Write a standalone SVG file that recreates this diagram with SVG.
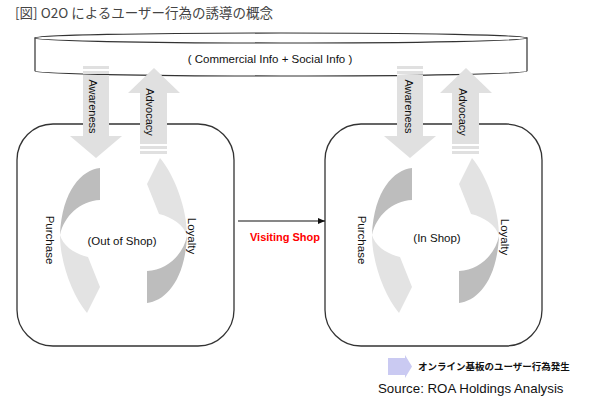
<svg xmlns="http://www.w3.org/2000/svg" width="590" height="410" viewBox="0 0 590 410">
<style>
.t{font-family:"Liberation Sans",Arial,sans-serif;fill:#111}
.box{fill:#fff;stroke:#333;stroke-width:1.3}
.arr{fill:#e0e0e0}
.dk{fill:#bdbdbd}
.lt{fill:#e3e3e3}
</style>
<defs>
<marker id="ah" markerWidth="8" markerHeight="8" refX="7" refY="4" orient="auto" markerUnits="userSpaceOnUse"><path d="M0,1 L7,4 L0,7 Z" fill="#111"/></marker>
<g id="cyc">
<path class="dk" d="M100,168 C82,170 62,190 60,235 C64,216 80,201 100,200 Z"/>
<path class="lt" d="M60,235 C60,262 72,295 87,313 L100,287 L88,257 C75,254 63,246 60,235 Z"/>
</g>
<g id="down">
<rect class="arr" x="83" y="66" width="26" height="3"/>
<rect class="arr" x="83" y="71" width="26" height="3"/>
<path class="arr" d="M83,75 H109 V136 H122 L96,158 L70,136 H83 Z"/>
</g>
<g id="up">
<path class="arr" d="M140,144 V93 H128 L154,68 L180,93 H167 V144 Z"/>
<rect class="arr" x="140" y="146" width="27" height="3"/>
<rect class="arr" x="140" y="151" width="27" height="3"/>
</g>
</defs>
<text x="15" y="18" font-family="'Noto Sans CJK JP',sans-serif" font-size="13.5" fill="#444">[図] O2O によるユーザー行為の誘導の概念</text>
<g id="info">
<path d="M35,38 V71 A246,5 0 0 0 527,71 V38 Z" fill="#fff" stroke="#333" stroke-width="1.2"/>
<ellipse cx="281" cy="38" rx="246" ry="5" fill="#fff" stroke="#333" stroke-width="1.2"/>
<text class="t" x="270" y="63" font-size="11.5" text-anchor="middle">( Commercial Info + Social Info )</text>
</g>
<g id="outshop">
<rect class="box" x="17" y="124" width="217" height="222" rx="36"/>
<use href="#cyc"/>
<use href="#cyc" transform="rotate(180 123.5 235.5)"/>
<text class="t" x="122" y="245" font-size="11.5" text-anchor="middle">(Out of Shop)</text>
<text class="t" font-size="11.5" text-anchor="middle" transform="translate(46,240) rotate(90)">Purchase</text>
<text class="t" font-size="11.5" text-anchor="middle" transform="translate(188,236) rotate(90)">Loyalty</text>
</g>
<g id="inshop">
<rect class="box" x="325" y="124" width="217" height="222" rx="36"/>
<g transform="translate(312,0)">
<use href="#cyc"/>
<use href="#cyc" transform="rotate(180 123.5 235.5)"/>
</g>
<text class="t" x="437" y="242" font-size="11.5" text-anchor="middle">(In Shop)</text>
<text class="t" font-size="11.5" text-anchor="middle" transform="translate(358,240) rotate(90)">Purchase</text>
<text class="t" font-size="11.5" text-anchor="middle" transform="translate(501,237) rotate(90)">Loyalty</text>
</g>
<g id="awareness-left">
<use href="#down"/>
<text class="t" font-size="11" text-anchor="middle" transform="translate(89,106.5) rotate(90)">Awareness</text>
</g>
<g id="advocacy-left">
<use href="#up"/>
<text class="t" font-size="11" text-anchor="middle" transform="translate(146,112) rotate(90)">Advocacy</text>
</g>
<g id="awareness-right">
<use href="#down" transform="translate(314,0)"/>
<text class="t" font-size="11" text-anchor="middle" transform="translate(405,106.5) rotate(90)">Awareness</text>
</g>
<g id="advocacy-right">
<use href="#up" transform="translate(312,0)"/>
<text class="t" font-size="11" text-anchor="middle" transform="translate(459,112) rotate(90)">Advocacy</text>
</g>
<g id="connectors">
<line x1="238" y1="221" x2="325" y2="221" stroke="#111" stroke-width="1.2" marker-end="url(#ah)"/>
<text x="285" y="241" font-family="'Liberation Sans',Arial,sans-serif" font-size="11" font-weight="bold" fill="#ff0000" text-anchor="middle">Visiting Shop</text>
</g>
<g id="legend">
<path d="M388,358 H405 V355 L412,366.5 L405,378 V375 H388 Z" fill="#cacaf2"/>
<text x="418" y="370" font-family="'Noto Sans CJK JP',sans-serif" font-size="9.5" font-weight="bold" fill="#111">オンライン基板のユーザー行為発生</text>
</g>
<text class="t" x="378" y="393" font-size="13.3" fill="#222">Source: ROA Holdings Analysis</text>
</svg>
